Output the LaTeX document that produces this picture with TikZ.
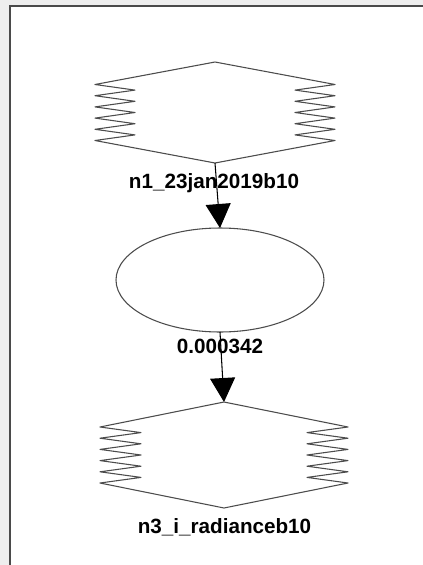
\documentclass[tikz,border=0pt]{standalone}
\usepackage{fontspec}
\setmainfont{Liberation Sans}
\usepackage{tikz}
\usetikzlibrary{shapes.geometric,arrows.meta}

\definecolor{panelgray}{HTML}{EEEEEE}
\definecolor{framegray}{HTML}{4A4A4A}
\definecolor{shapegray}{HTML}{4C4C4C}

% hexagon with zig-zag sides drawn round an empty node
\newcommand{\zigbox}[4]{%
  \begin{scope}[shift={(#1.center)}]
    \draw[outline] (0,-#3) -- (-#2,-28)
      \foreach \k in {1,...,5} { -- ({-#2+#4},{-28+11.2*\k-5.6}) -- (-#2,{-28+11.2*\k}) }
      -- (0,#3) -- (#2,28)
      \foreach \k in {1,...,5} { -- ({#2-#4},{28-11.2*\k+5.6}) -- (#2,{28-11.2*\k}) }
      -- cycle;
  \end{scope}}

\tikzset{
  outline/.style={draw=shapegray, line width=0.8pt, line join=round},
  zbox/.style={inner sep=0pt, outer sep=0pt},
  oval/.style={ellipse, outline, inner sep=0pt, outer sep=0pt,
    minimum width=156pt, minimum height=78pt},
  lbl/.style={anchor=base, inner sep=0pt, font=\fontsize{15.5}{18}\selectfont\bfseries},
  edge/.style={-{Triangle[length=18pt,width=18.75pt]}, line width=0.8pt, black},
}

\begin{document}
\begin{tikzpicture}[x=0.75pt, y=-0.75pt]
  % frame
  \useasboundingbox (0,0) rectangle (423,565);
  \fill[panelgray] (0,0) rectangle (423,565);
  \fill[white] (10,6) rectangle (423,565);
  \draw[framegray, line width=2pt] (10,565) -- (10,6) -- (423,6);

  % nodes
  \node[zbox, minimum width=180pt, minimum height=75.75pt] (n1) at (215,112.5) {};
  \zigbox{n1}{120}{50.5}{40}
  \node[oval] (n2) at (220,280) {};
  \node[zbox, minimum width=186pt, minimum height=79.5pt] (n3) at (224,455) {};
  \zigbox{n3}{124}{53}{41}

  % edges
  \draw[edge] (n1.south) -- (n2.north);
  \draw[edge] (n2.south) -- (n3.north);

  % labels
  \node[lbl] (l1) at (214,188) {n1\_23jan2019b10};
  \node[lbl] (l2) at (220,353) {0.000342};
  \node[lbl] (l3) at (224.5,533) {n3\_i\_radianceb10};
\end{tikzpicture}
\end{document}
